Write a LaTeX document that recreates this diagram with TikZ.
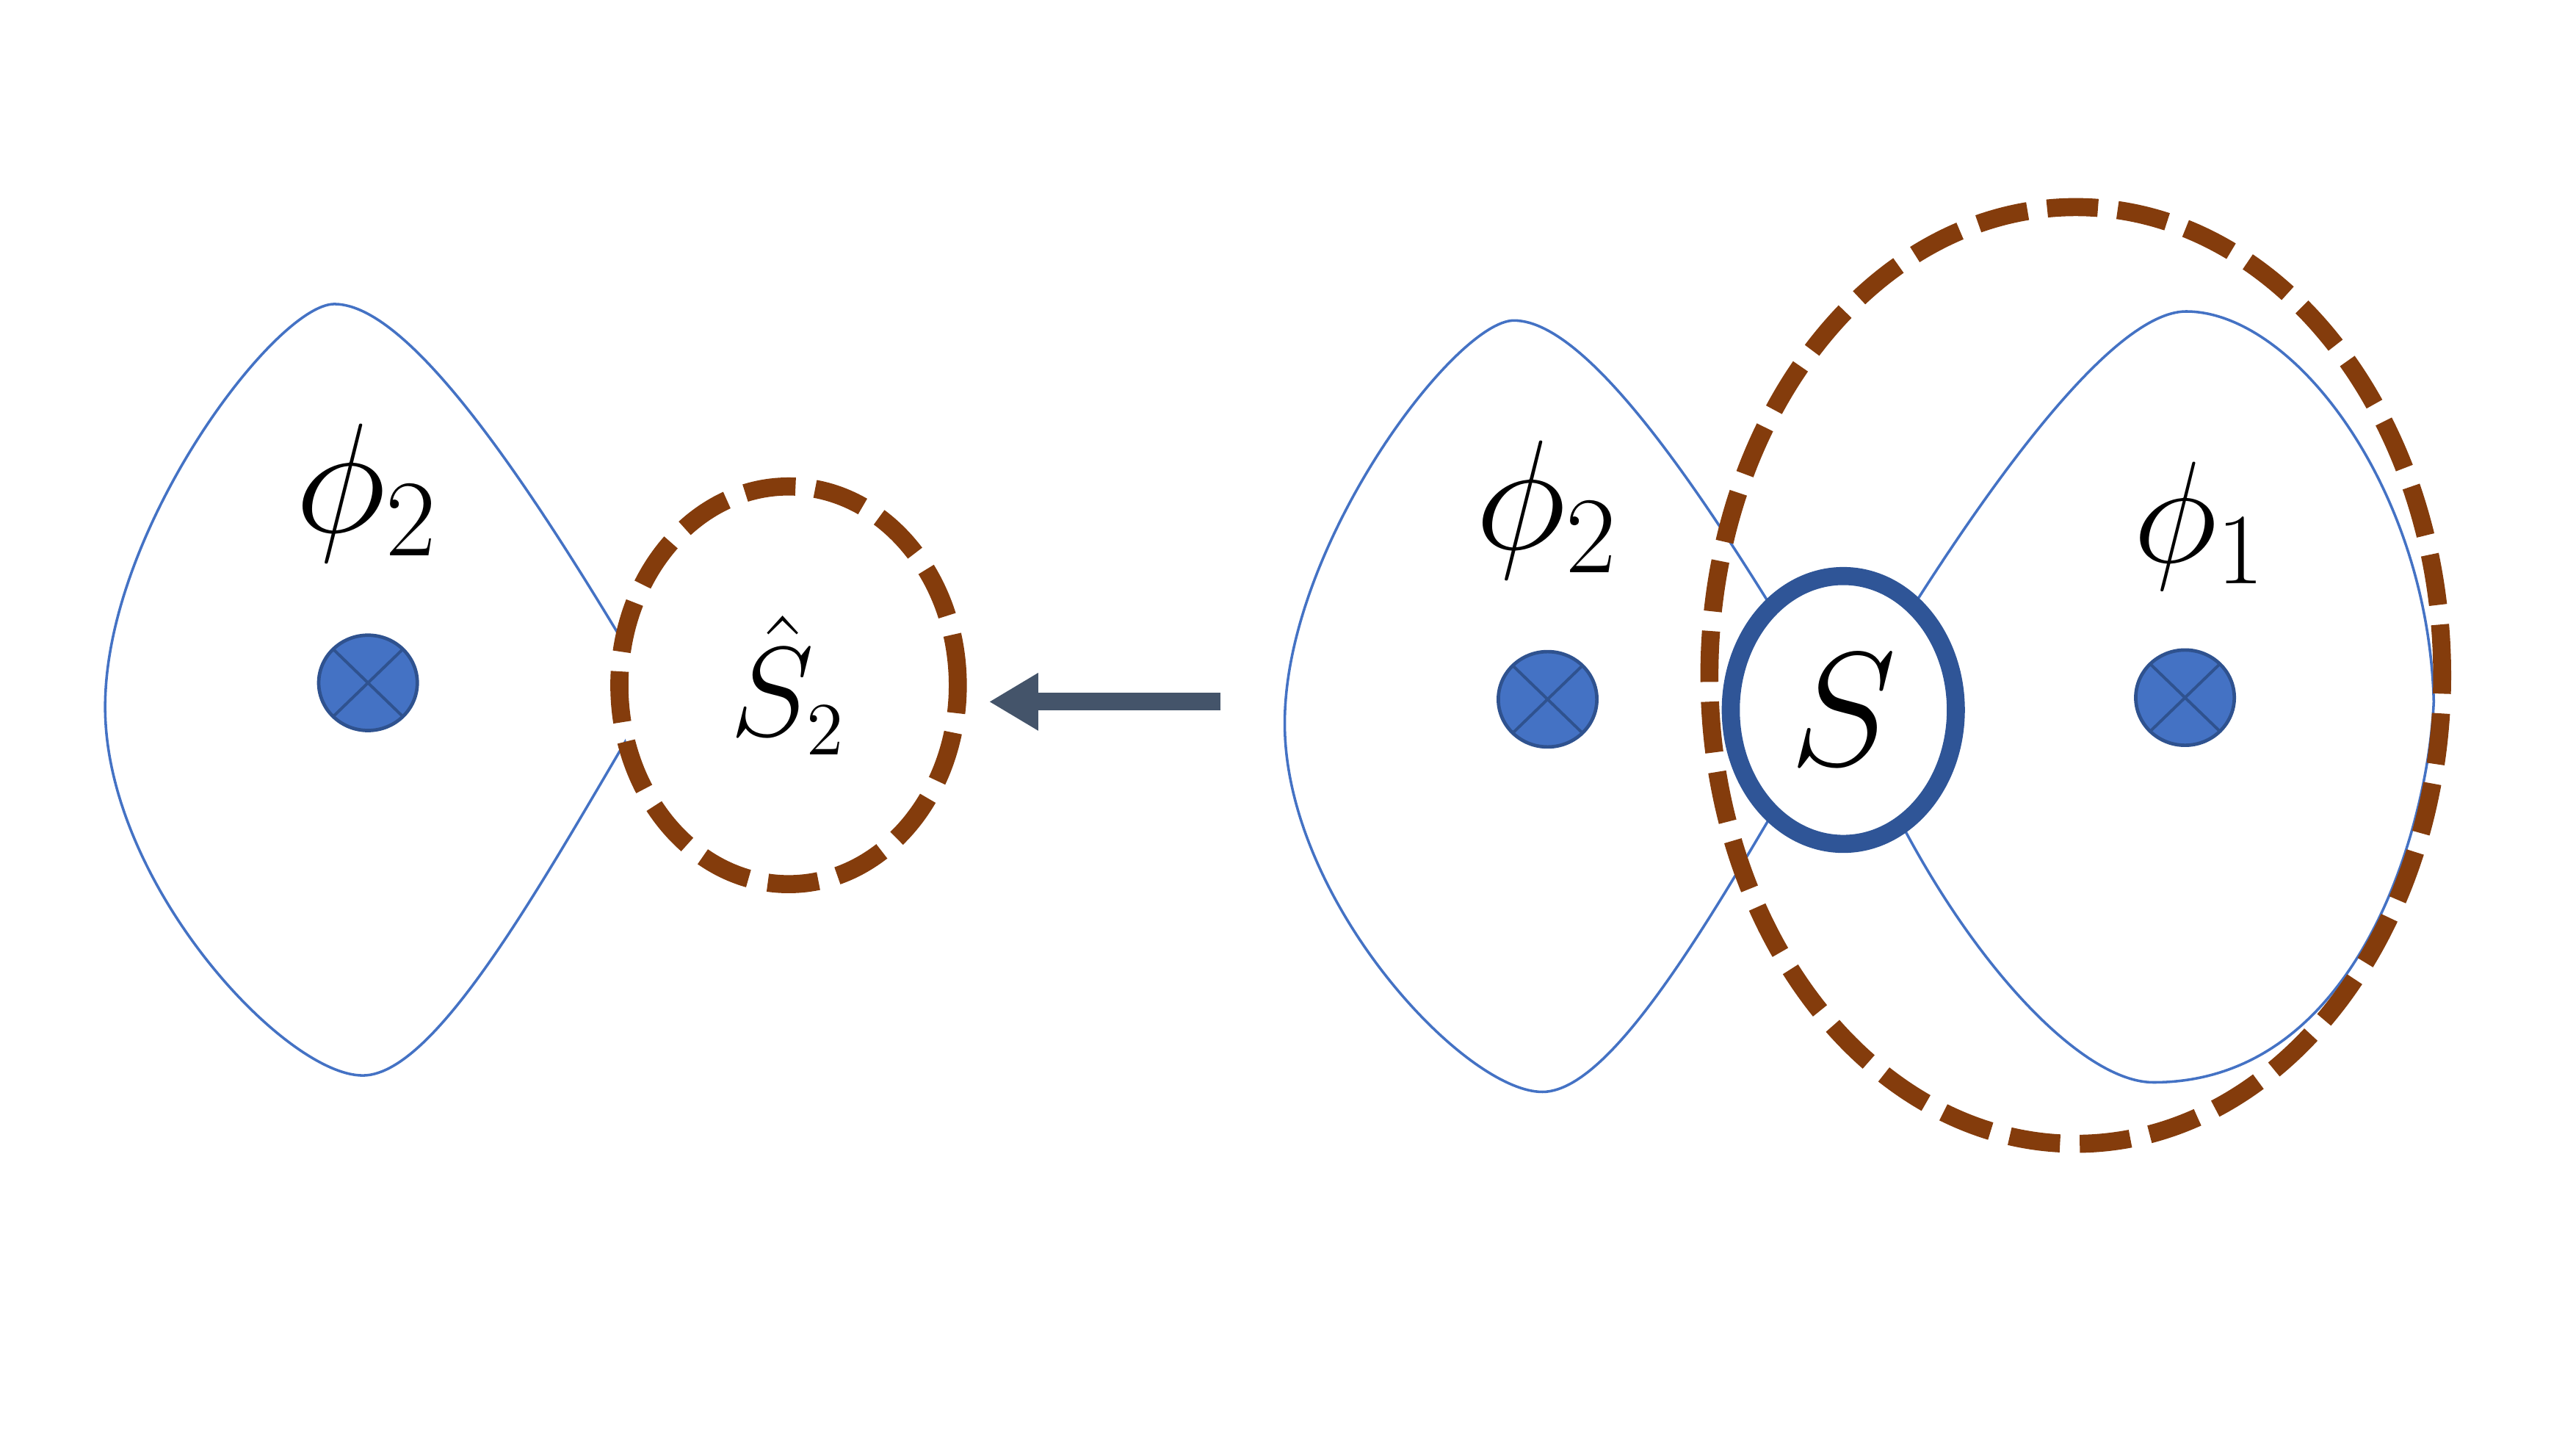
\RequirePackage{fix-cm}
\documentclass[tikz,border=0pt]{standalone}
\usepackage{tikz}
\usetikzlibrary{shapes.geometric, arrows.meta, positioning}
\definecolor{cutbrown}{HTML}{843C0C}
\definecolor{ringblue}{HTML}{2F5597}
\definecolor{dotblue}{HTML}{4472C4}
\definecolor{dotedge}{HTML}{2F528F}
\definecolor{petalblue}{HTML}{4472C4}
\definecolor{arrowgray}{HTML}{44546A}
\tikzset{
  petalline/.style={draw=petalblue, line width=0.45pt},
  charge/.style={ellipse, fill=dotblue, draw=dotedge, line width=0.6pt, minimum width=0.6cm, minimum height=0.58cm, inner sep=0pt,
    path picture={\draw[dotedge, line width=0.5pt] (path picture bounding box.north west) -- (path picture bounding box.south east)
      (path picture bounding box.north east) -- (path picture bounding box.south west);}},
  dashring/.style={ellipse, draw=cutbrown, line width=1.1mm, dash pattern=on 3.1mm off 1.2mm, inner sep=0pt},
  sring/.style={ellipse, draw=ringblue, line width=1.1mm, fill=white, inner sep=0pt},
  fieldtext/.style={anchor=base, inner sep=0pt, font=\fontsize{27}{32}\selectfont},
  pointer/.style={draw=arrowgray, line width=1.07mm, -{Triangle[length=3mm, width=3.3mm]}, shorten >=1.35mm}
}

\begin{document}
\begin{tikzpicture}
        \useasboundingbox (0,0) rectangle (15.68,-8.82);

        % Petali
        \begin{scope}[shift={(3.98,-4.22)}]
            \draw[petalline] (0,0) .. controls (-0.65,1.1) and (-1.45,2.37) .. (-1.945,2.37)
                .. controls (-2.3,2.37) and (-3.34,1.0) .. (-3.34,-0.082)
                .. controls (-3.34,-1.15) and (-2.25,-2.324) .. (-1.772,-2.324)
                .. controls (-1.3,-2.324) and (-0.6,-1.0) .. (0,0);
        \end{scope}
        \begin{scope}[shift={(11.16,-4.32)}]
            \draw[petalline] (0,0) .. controls (-0.65,1.1) and (-1.45,2.37) .. (-1.945,2.37)
                .. controls (-2.3,2.37) and (-3.34,1.0) .. (-3.34,-0.082)
                .. controls (-3.34,-1.15) and (-2.25,-2.324) .. (-1.772,-2.324)
                .. controls (-1.3,-2.324) and (-0.6,-1.0) .. (0,0);
            \draw[petalline] (0.1,0) .. controls (0.6,0.85) and (1.6,2.425) .. (2.147,2.425)
                .. controls (2.8,2.425) and (3.62,1.35) .. (3.654,0.05)
                .. controls (3.62,-0.7) and (3.2,-2.266) .. (1.947,-2.266)
                .. controls (1.45,-2.266) and (0.6,-1.3) .. (0.1,0);
        \end{scope}

        % Cariche
        \node[charge] (dotL) at (2.24,-4.155) {};
        \node[charge] (dotR2) at (9.42,-4.255) {};
        \node[charge] (dotR1) at (13.30,-4.245) {};

        % Superfici
        \node[dashring, minimum width=4.46cm, minimum height=5.70cm] (cutR) at (12.635,-4.11) {};
        \node[dashring, fill=white, minimum width=2.06cm, minimum height=2.42cm, font=\fontsize{22}{26}\selectfont] (cutL) at (4.80,-4.17) {$\hat{S}_{\mbox{\fontsize{13}{15}\selectfont 2}}$};
        \node[sring, minimum width=1.37cm, minimum height=1.63cm, font=\fontsize{28}{34}\selectfont] (ringS) at (11.22,-4.32) {$S$};

        % Campi
        \node[fieldtext] (phiL) at (2.235,-3.24) {$\phi_2$};
        \node[fieldtext] (phiR2) at (9.42,-3.34) {$\phi_2$};
        \node[fieldtext, font=\fontsize{25}{30}\selectfont] (phiR1) at (13.39,-3.42) {$\phi_1$};

        % Freccia
        \coordinate (tail) at (7.43,-4.27);
        \draw[pointer] (tail) -- (tail -| cutL.east);
\end{tikzpicture}
\end{document}
